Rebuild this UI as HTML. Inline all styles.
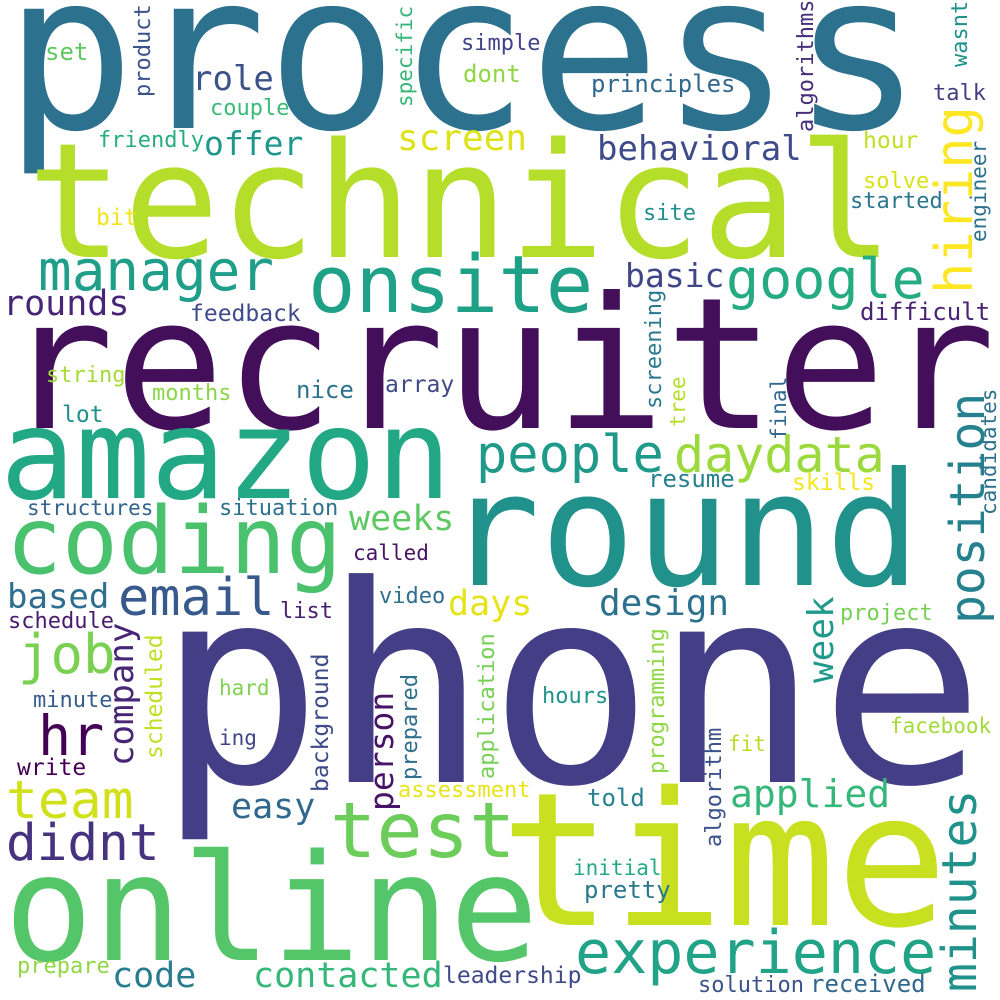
<!DOCTYPE html>
<html><head><meta charset="utf-8"><style>
html,body{margin:0;padding:0;background:#fff;}
svg{display:block;}
text{font-family:"DejaVu Sans Mono","Liberation Mono",monospace;}
</style></head><body>
<svg width="1000" height="1000" viewBox="0 0 1000 1000" xmlns="http://www.w3.org/2000/svg">
<rect width="1000" height="1000" fill="#fff"/>
<text x="4" y="128" font-size="218" fill="#2c728e">process</text>
<text x="27" y="257" font-size="160" fill="#b5de2b">technical</text>
<text x="4" y="428" font-size="183" fill="#440f5a">recruiter</text>
<text x="0" y="498" font-size="125" fill="#22a884">amazon</text>
<text x="445" y="585" font-size="158" fill="#21918c">round</text>
<text x="6" y="573" font-size="93" fill="#4ac16d">coding</text>
<text x="157" y="782" font-size="275" fill="#433e85">phone</text>
<text x="500" y="925" font-size="186" fill="#c8e020">time</text>
<text x="4" y="960" font-size="148" fill="#54c568">online</text>
<text x="330" y="857" font-size="77" fill="#6ccd5a">test</text>
<text x="575" y="973" font-size="60" fill="#20a386">experience</text>
<text x="308" y="312" font-size="79" fill="#1fa187">onsite</text>
<text x="38" y="290" font-size="56" fill="#1f9e89">manager</text>
<text x="726" y="298" font-size="55" fill="#25ab82">google</text>
<text x="476" y="472" font-size="52" fill="#1f9a8a">people</text>
<text x="674" y="472" font-size="50" fill="#9bd93c">daydata</text>
<text x="118" y="615" font-size="52" fill="#38598c">email</text>
<text x="18" y="673" font-size="54" fill="#7ad151">job</text>
<text x="38" y="755" font-size="55" fill="#440154">hr</text>
<text x="6" y="818" font-size="53" fill="#d0e11c">team</text>
<text x="6" y="860" font-size="51" fill="#46337f">didnt</text>
<text x="231" y="818" font-size="35" fill="#31688e">easy</text>
<text x="730" y="807" font-size="38" fill="#35b779">applied</text>
<text x="599" y="615" font-size="36" fill="#2c728e">design</text>
<text x="448" y="615" font-size="35" fill="#e5e419">days</text>
<text x="349" y="530" font-size="35" fill="#5ec962">weeks</text>
<text x="7" y="608" font-size="34" fill="#2e6e8e">based</text>
<text x="3" y="315" font-size="35" fill="#482677">rounds</text>
<text x="192" y="90" font-size="34" fill="#3b528b">role</text>
<text x="204" y="155" font-size="33" fill="#1f988b">offer</text>
<text x="210" y="115" font-size="22" fill="#3bbb75">couple</text>
<text x="98" y="147" font-size="22" fill="#26ad81">friendly</text>
<text x="45" y="60" font-size="24" fill="#5ec962">set</text>
<text x="96" y="225" font-size="23" fill="#f1e51d">bit</text>
<text x="397" y="150" font-size="36" fill="#dde318">screen</text>
<text x="597" y="160" font-size="34" fill="#3e4a89">behavioral</text>
<text x="625" y="287" font-size="33" fill="#404688">basic</text>
<text x="591" y="92" font-size="24" fill="#31688e">principles</text>
<text x="461" y="50" font-size="22" fill="#414287">simple</text>
<text x="463" y="82" font-size="24" fill="#8fd744">dont</text>
<text x="933" y="100" font-size="22" fill="#433d84">talk</text>
<text x="863" y="148" font-size="23" fill="#c2df23">hour</text>
<text x="863" y="188" font-size="22" fill="#d8e219">solve</text>
<text x="850" y="208" font-size="22" fill="#2a768e">started</text>
<text x="643" y="220" font-size="22" fill="#21908d">site</text>
<text x="860" y="320" font-size="24" fill="#482374">difficult</text>
<text x="190" y="321" font-size="23" fill="#3e4a89">feedback</text>
<text x="46" y="382" font-size="22" fill="#a5db36">string</text>
<text x="152" y="400" font-size="22" fill="#8bd646">months</text>
<text x="296" y="398" font-size="24" fill="#2c718e">nice</text>
<text x="385" y="392" font-size="23" fill="#3f4889">array</text>
<text x="62" y="422" font-size="23" fill="#21918c">lot</text>
<text x="27" y="515" font-size="21" fill="#32648e">structures</text>
<text x="219" y="515" font-size="22" fill="#2d718e">situation</text>
<text x="648" y="487" font-size="24" fill="#27808e">resume</text>
<text x="792" y="490" font-size="23" fill="#f4e61e">skills</text>
<text x="353" y="560" font-size="21" fill="#471365">called</text>
<text x="112" y="987" font-size="35" fill="#287c8e">code</text>
<text x="253" y="987" font-size="35" fill="#35b779">contacted</text>
<text x="443" y="983" font-size="23" fill="#3e4989">leadership</text>
<text x="698" y="992" font-size="22" fill="#3b528b">solution</text>
<text x="810" y="992" font-size="24" fill="#31688e">received</text>
<text x="17" y="973" font-size="22" fill="#8fd744">prepare</text>
<text x="584" y="898" font-size="24" fill="#2a788e">pretty</text>
<text x="573" y="875" font-size="21" fill="#25ab82">initial</text>
<text x="587" y="806" font-size="24" fill="#26828e">told</text>
<text x="398" y="797" font-size="22" fill="#e8e419">assessment</text>
<text x="17" y="775" font-size="23" fill="#440154">write</text>
<text x="219" y="745" font-size="21" fill="#404588">ing</text>
<text x="33" y="707" font-size="22" fill="#365c8d">minute</text>
<text x="219" y="695" font-size="21" fill="#7fd34e">hard</text>
<text x="542" y="703" font-size="22" fill="#20928c">hours</text>
<text x="8" y="628" font-size="22" fill="#481b6d">schedule</text>
<text x="280" y="618" font-size="22" fill="#481f70">list</text>
<text x="379" y="603" font-size="22" fill="#2e6f8e">video</text>
<text x="840" y="620" font-size="22" fill="#75d054">project</text>
<text x="890" y="733" font-size="21" fill="#a2da37">facebook</text>
<text x="728" y="751" font-size="21" fill="#b8de29">fit</text>

<text transform="translate(972,294) rotate(-90)" font-size="52" fill="#fde725">hiring</text>
<text transform="translate(984,624) rotate(-90)" font-size="48" fill="#26818e">position</text>
<text transform="translate(133,766) rotate(-90)" font-size="34" fill="#482575">company</text>
<text transform="translate(393,811) rotate(-90)" font-size="33" fill="#481467">person</text>
<text transform="translate(976,992) rotate(-90)" font-size="48" fill="#21918c">minutes</text>
<text transform="translate(833,683) rotate(-90)" font-size="36" fill="#1f9a8a">week</text>
<text transform="translate(150,97) rotate(-90)" font-size="22" fill="#3b528b">product</text>
<text transform="translate(412,107) rotate(-90)" font-size="21" fill="#35b779">specific</text>
<text transform="translate(813,132) rotate(-90)" font-size="22" fill="#472d7b">algorithms</text>
<text transform="translate(967,67) rotate(-90)" font-size="22" fill="#21918c">wasnt</text>
<text transform="translate(986,242) rotate(-90)" font-size="21" fill="#2c728e">engineer</text>
<text transform="translate(661,409) rotate(-90)" font-size="22" fill="#2a788e">screening</text>
<text transform="translate(685,427) rotate(-90)" font-size="21" fill="#b5de2b">tree</text>
<text transform="translate(786,440) rotate(-90)" font-size="21" fill="#31688e">final</text>
<text transform="translate(996,515) rotate(-90)" font-size="21" fill="#2c728e">candidates</text>
<text transform="translate(328,792) rotate(-90)" font-size="23" fill="#3e4a89">background</text>
<text transform="translate(162,759) rotate(-90)" font-size="23" fill="#c0df25">scheduled</text>
<text transform="translate(417,780) rotate(-90)" font-size="22" fill="#2e6f8e">prepared</text>
<text transform="translate(494,779) rotate(-90)" font-size="22" fill="#75d054">application</text>
<text transform="translate(664,774) rotate(-90)" font-size="22" fill="#8fd744">programming</text>
<text transform="translate(721,847) rotate(-90)" font-size="22" fill="#3b528b">algorithm</text>
</svg>
</body></html>
